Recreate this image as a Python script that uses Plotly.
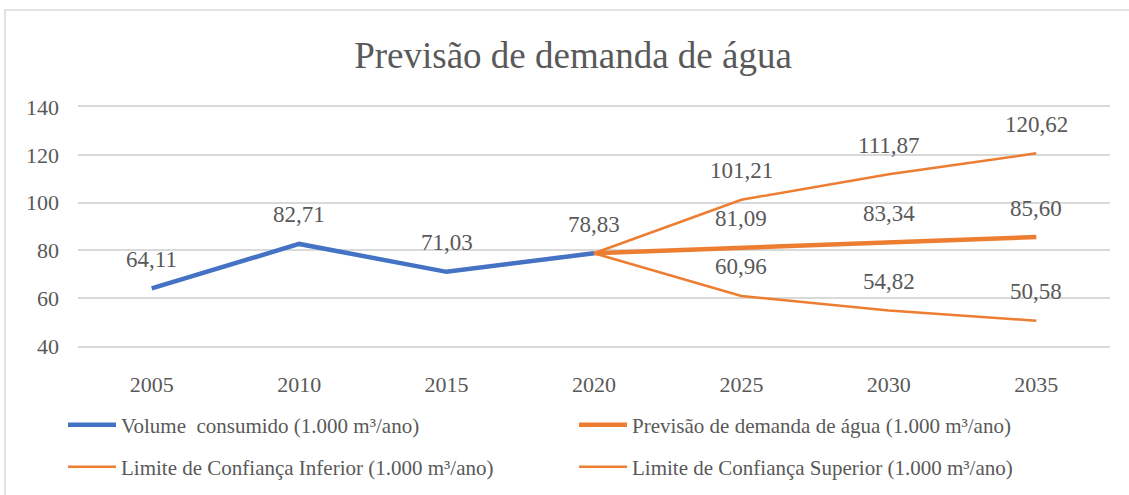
import plotly.graph_objects as go

# Série histórica e projeções (1.000 m³/ano)
anos = ["2005", "2010", "2015", "2020", "2025", "2030", "2035"]
anos_hist = ["2005", "2010", "2015", "2020"]
volume_consumido = [64.11, 82.71, 71.03, 78.83]
anos_prev = ["2020", "2025", "2030", "2035"]
previsao = [78.83, 81.09, 83.34, 85.60]
limite_inferior = [78.83, 60.96, 54.82, 50.58]
limite_superior = [78.83, 101.21, 111.87, 120.62]

AZUL = "#4472C4"
LARANJA = "#ED7D31"
TEXTO = "#595959"
GRADE = "#D9D9D9"
FONTE = "Liberation Serif, Times New Roman, serif"

W, H = 1129, 495
ML, MR, MT, MB = 78, 19, 107, 149

fig = go.Figure()

fig.add_trace(go.Scatter(
    x=anos_hist, y=volume_consumido, mode="lines",
    name="Volume  consumido (1.000 m³/ano)",
    line=dict(color=AZUL, width=4.5), legend="legend",
))
fig.add_trace(go.Scatter(
    x=anos_prev, y=previsao, mode="lines",
    name="Previsão de demanda de água (1.000 m³/ano)",
    line=dict(color=LARANJA, width=4.5), legend="legend",
))
fig.add_trace(go.Scatter(
    x=anos_prev, y=limite_inferior, mode="lines",
    name="Limite de Confiança Inferior (1.000 m³/ano)",
    line=dict(color=LARANJA, width=2.5), legend="legend2",
))
fig.add_trace(go.Scatter(
    x=anos_prev, y=limite_superior, mode="lines",
    name="Limite de Confiança Superior (1.000 m³/ano)",
    line=dict(color=LARANJA, width=2.5), legend="legend2",
))


def rotulo(v):
    return f"{v:.2f}".replace(".", ",")


# Rótulos de dados acima de cada ponto (2020 rotulado uma só vez);
# a posição x é o índice da categoria no eixo
rotulos = list(zip(anos_hist, volume_consumido))
for serie in (previsao, limite_inferior, limite_superior):
    rotulos += list(zip(anos_prev[1:], serie[1:]))
for ano, v in rotulos:
    fig.add_annotation(
        x=anos.index(ano), y=v, xref="x", yref="y",
        text=rotulo(v), showarrow=False,
        yshift=29, font=dict(family=FONTE, size=23, color=TEXTO),
    )

# Moldura da área do gráfico (bordas superior e esquerda)
fig.add_shape(
    type="rect", xref="paper", yref="paper",
    x0=(5 - ML) / (W - ML - MR), x1=(W + 20 - ML) / (W - ML - MR),
    y0=(H - MB - (H + 20)) / (H - MT - MB), y1=(H - MB - 10) / (H - MT - MB),
    line=dict(color=GRADE, width=1.5), fillcolor="rgba(0,0,0,0)", layer="below",
)

leg_comum = dict(
    orientation="h", xanchor="left", yanchor="middle",
    xref="container", yref="container",
    x=63 / W,
    font=dict(family=FONTE, size=21, color=TEXTO),
    entrywidth=448, itemwidth=48, bgcolor="rgba(0,0,0,0)",
    traceorder="normal",
)

fig.update_layout(
    width=W, height=H,
    margin=dict(l=ML, r=MR, t=MT, b=MB, autoexpand=False),
    paper_bgcolor="white", plot_bgcolor="white",
    title=dict(
        text="Previsão de demanda de água",
        xref="container", x=573 / W, xanchor="center",
        y=1 - 55 / H, yanchor="middle",
        font=dict(family=FONTE, size=37, color=TEXTO),
    ),
    font=dict(family=FONTE, color=TEXTO),
    xaxis=dict(
        type="category", categoryorder="array", categoryarray=anos,
        range=[-0.5, 6.5], showgrid=False, zeroline=False,
        showline=True, mirror=True, linecolor=GRADE, linewidth=1.5,
        ticks="", ticklabelstandoff=18,
        tickfont=dict(family=FONTE, size=22, color=TEXTO),
    ),
    yaxis=dict(
        range=[40, 140], dtick=20, tick0=40,
        showgrid=True, gridcolor=GRADE, gridwidth=1.5,
        zeroline=False, showline=False, ticks="", ticklabelstandoff=18,
        tickfont=dict(family=FONTE, size=22, color=TEXTO),
    ),
    legend=dict(leg_comum, y=1 - 425 / H),
    legend2=dict(leg_comum, y=1 - 467 / H),
    showlegend=True,
)

fig.write_html("out.html")
